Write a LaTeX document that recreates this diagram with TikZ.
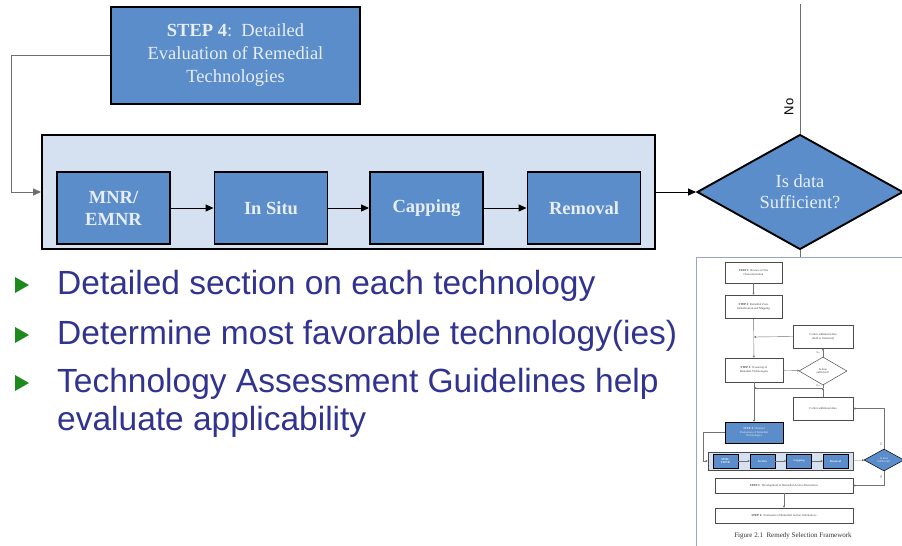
\documentclass[tikz,border=0pt]{standalone}
\usepackage{fontspec}
\setmainfont{Liberation Serif}
\setsansfont{Liberation Sans}
\usetikzlibrary{shapes.geometric,arrows.meta}

\definecolor{boxblue}{HTML}{5A8DC9}
\definecolor{paneblue}{HTML}{D5E1F0}
\definecolor{boxtext}{HTML}{E8EEF7}
\definecolor{itemblue}{HTML}{30338F}
\definecolor{itemgreen}{HTML}{1C8A1C}
\definecolor{wire}{HTML}{6E6E6E}
\definecolor{thumbedge}{HTML}{9BA4C2}

\tikzset{
  bluebox/.style={draw=black, line width=1.9pt, fill=boxblue, text=boxtext, align=center, inner sep=0pt},
  techbox/.style={bluebox, font=\fontsize{18.5}{22}\selectfont\bfseries, minimum width=113pt, minimum height=72pt},
  itemtext/.style={text=itemblue, font=\sffamily\fontsize{33.5}{38}\selectfont, align=left, inner sep=0pt, anchor=base west},
  wireline/.style={draw=wire, line width=1pt},
  flow/.style={draw=black, line width=1pt, -{Triangle[length=8pt,width=7pt]}},
  tinybox/.style={draw=black!70, line width=0.5pt, fill=white, text=black!75, align=center, inner sep=0pt, font=\fontsize{3}{3.6}\selectfont},
  tinyblue/.style={tinybox, fill=boxblue, text=boxtext, draw=black},
  tinywire/.style={draw=black!55, line width=0.4pt},
  tinyflow/.style={tinywire, -{Triangle[length=2pt,width=2pt]}},
  tinylabel/.style={inner sep=0pt, text=black!70, font=\fontsize{2.5}{3}\selectfont}
}

\begin{document}
\begin{tikzpicture}[x=1pt,y=-1pt]
\useasboundingbox (0,0) rectangle (902,546);

% detailed evaluation step
\node[bluebox, minimum width=249pt, minimum height=97pt, font=\fontsize{18.5}{23}\selectfont] (step4) at (235.5,55.5) {\textbf{STEP 4}:\ \ Detailed\\Evaluation of Remedial\\Technologies};

\node[draw=black, line width=1.9pt, fill=paneblue, minimum width=613pt, minimum height=114pt, inner sep=0pt] (pane) at (348.5,192) {};
\node[techbox] (mnr) at (113.5,208) {MNR/\\EMNR};
\node[techbox] (insitu) at (271,208) {In Situ};
\node[techbox] (capping) at (426.5,208) {Capping};
\node[techbox] (removal) at (584,208) {Removal};

\node[bluebox, diamond, minimum width=206pt, minimum height=113pt, font=\fontsize{18.5}{21}\selectfont] (suff) at (800,192) {Is data\\Sufficient?};

\draw[wireline, -{Triangle[length=8pt,width=7pt]}] (step4.west) -- ++(-99,0) |- (pane.west);
\draw[flow] (mnr) -- (insitu);
\draw[flow] (insitu) -- (capping);
\draw[flow] (capping) -- (removal);
\draw[flow] (pane.east) -- (suff.west);

\coordinate (noend) at (800,4);
\draw[wireline] (suff.north) -- (noend);
\node[rotate=90, inner sep=0pt, font=\sffamily\fontsize{13}{13}\selectfont] (nolabel) at (789,107) {No};

% thumbnail of the framework
\node[draw=thumbedge, line width=1pt, fill=white, minimum width=220pt, minimum height=300pt, anchor=north west, inner sep=0pt] (thumb) at (696,257) {};
\draw[wireline] (suff.south) -- (suff.south |- thumb.north);

\node[tinybox, minimum width=57pt, minimum height=21pt] (ts1) at (753.5,272.5) {\textbf{STEP 1}:\ Review of Site\\Characterization};
\node[tinybox, minimum width=57pt, minimum height=23pt] (ts2) at (753.5,306.5) {\textbf{STEP 2}:\ Remedial Zone\\Identification and Mapping};
\node[tinybox, minimum width=60pt, minimum height=23pt] (tc1) at (823,336.5) {Collect additional data\\(field or literature)};
\node[tinybox, minimum width=58pt, minimum height=24pt] (ts3) at (754,370) {\textbf{STEP 3}:\ Screening of\\Remedial Technologies};
\node[tinybox, diamond, minimum width=48pt, minimum height=28pt] (tdia1) at (823,371) {Is data\\sufficient?};
\node[tinybox, minimum width=60pt, minimum height=23pt] (tc2) at (823,408.5) {Collect additional data};
\node[tinyblue, minimum width=58pt, minimum height=21pt] (ts4) at (754,432.5) {\textbf{STEP 4}:\ Detailed\\Evaluation of Remedial\\Technologies};
\node[draw=black!70, line width=0.5pt, fill=paneblue, minimum width=145pt, minimum height=18pt, inner sep=0pt] (tpane) at (780.5,461) {};
\node[tinyblue, minimum width=25pt, minimum height=14pt] (tm1) at (725.5,461) {\textbf{MNR/}\\\textbf{EMNR}};
\node[tinyblue, minimum width=25pt, minimum height=14pt] (tm2) at (762.5,461) {\textbf{In Situ}};
\node[tinyblue, minimum width=25pt, minimum height=14pt] (tm3) at (799,461) {\textbf{Capping}};
\node[tinyblue, minimum width=25pt, minimum height=14pt] (tm4) at (835.5,461) {\textbf{Removal}};
\node[tinyblue, diamond, minimum width=40pt, minimum height=22pt] (tdia2) at (884,460) {Is data\\Sufficient?};
\node[tinybox, minimum width=138pt, minimum height=15pt] (ts5) at (784,485.5) {\textbf{STEP 5}:\ \ Development of Remedial Action Alternatives};
\node[tinybox, minimum width=138pt, minimum height=15pt] (ts6) at (784,515.5) {\textbf{STEP 6}:\ \ Evaluation of Remedial Action Alternatives};
\node[inner sep=0pt, text=black!80, font=\fontsize{7}{8}\selectfont] (tcap) at (793,536) {Figure 2.1\ \ Remedy Selection Framework};

\coordinate (tj1) at (754,337);
\coordinate (tj2) at (754,388);
\coordinate (tj3) at (823,388);
\draw[tinyflow] (ts1) -- (ts2);
\draw[tinyflow] (ts2) -- (ts3);
\draw[tinyflow] (tc1.west) -- (tj1);
\draw[tinyflow] (ts3) -- (tdia1);
\draw[tinyflow] (tdia1) -- (tc1);
\draw[tinywire] (tdia1.south) -- (tj3);
\draw[tinyflow] (tj3) -- (tj2);
\draw[tinyflow] (tc2) -- (tj3);
\draw[tinyflow] (ts3) -- (ts4);
\draw[tinyflow] (ts4.west) -- ++(-22,0) |- (tpane.west);
\draw[tinyflow] (tm1) -- (tm2);
\draw[tinyflow] (tm2) -- (tm3);
\draw[tinyflow] (tm3) -- (tm4);
\draw[tinyflow] (tpane) -- (tdia2);
\draw[tinyflow] (tdia2.north) |- (tc2.east);
\draw[tinyflow] (tdia2.south) |- (ts5.east);
\draw[tinyflow] (ts5) -- (ts6);
\node[tinylabel] (tno1) at (818,353) {No};
\node[tinylabel] (tyes1) at (818,386) {Yes};
\node[tinylabel, rotate=90] (tno2) at (881,444) {No};
\node[tinylabel, rotate=90] (tyes2) at (881,477) {Yes};

% bullet list
\fill[itemgreen] (15,277) -- (29,285) -- (15,293) -- cycle;
\fill[itemgreen] (15,327) -- (29,335) -- (15,343) -- cycle;
\fill[itemgreen] (15,375) -- (29,383) -- (15,391) -- cycle;
\node[itemtext] (item1) at (57,294) {Detailed section on each technology};
\node[itemtext] (item2) at (57,344) {Determine most favorable technology(ies)};
\node[itemtext] (item3) at (57,430) {Technology Assessment Guidelines help\\evaluate applicability};
\end{tikzpicture}
\end{document}
